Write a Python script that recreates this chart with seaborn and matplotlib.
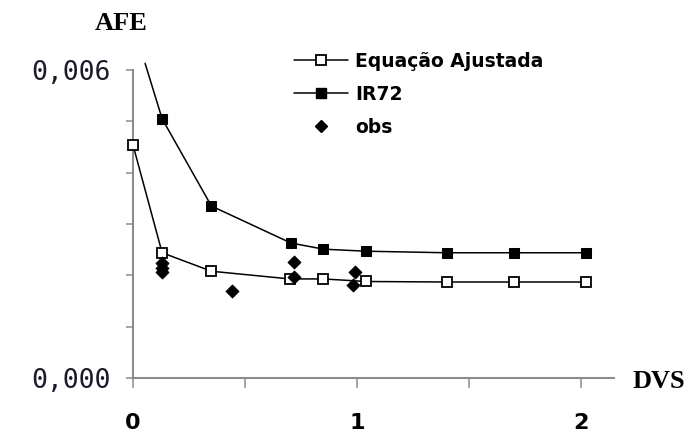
import matplotlib
matplotlib.use("Agg")
import matplotlib.pyplot as plt
import seaborn as sns
import pandas as pd
from matplotlib.lines import Line2D

# ---- data ----
eq_x = [0.0, 0.13, 0.35, 0.70, 0.85, 1.04, 1.40, 1.70, 2.02]
eq_y = [0.00454, 0.00244, 0.00208, 0.00193, 0.00193, 0.00188, 0.00187, 0.00187, 0.00187]

ir_x = [0.054, 0.13, 0.35, 0.705, 0.85, 1.04, 1.40, 1.70, 2.02]
ir_y = [0.00613, 0.00505, 0.00335, 0.00263, 0.00251, 0.00247, 0.00244, 0.00244, 0.00244]

obs_x = [0.13, 0.13, 0.13, 0.44, 0.72, 0.72, 0.99, 0.98]
obs_y = [0.00224, 0.00215, 0.00207, 0.00169, 0.00226, 0.00197, 0.00207, 0.00181]

xticks = [0, 0.5, 1, 1.5, 2]
xticklabels = ["0", "", "1", "", "2"]
yticks = [0, 0.001, 0.002, 0.003, 0.004, 0.005, 0.006]
yticklabels = ["0,000", "", "", "", "", "", "0,006"]

legend_labels = ["Equação Ajustada", "IR72", "obs"]

# ---- figure ----
sns.set_style("white")
plt.rcParams["text.color"] = "black"
W, H = 694, 432
fig = plt.figure(figsize=(W / 100, H / 100), dpi=100)
ax = fig.add_axes([133 / W, 54 / H, (614 - 133) / W, (378 - 58) / H])

eq_df = pd.DataFrame({"DVS": eq_x, "AFE": eq_y})
ir_df = pd.DataFrame({"DVS": ir_x, "AFE": ir_y})
obs_df = pd.DataFrame({"DVS": obs_x, "AFE": obs_y})

sns.lineplot(data=ir_df, x="DVS", y="AFE", ax=ax, color="black", lw=1.1,
             marker="s", markersize=7.5, markerfacecolor="black",
             markeredgecolor="black", markevery=list(range(1, len(ir_x))),
             clip_on=True, zorder=3)
sns.lineplot(data=eq_df, x="DVS", y="AFE", ax=ax, color="black", lw=1.1,
             marker="s", markersize=7.5, markerfacecolor="white",
             markeredgecolor="black", markeredgewidth=1.3,
             clip_on=False, zorder=4)
sns.scatterplot(data=obs_df, x="DVS", y="AFE", ax=ax, marker="D", s=45,
                color="black", edgecolor="black", zorder=5)

ax.set_xlim(0, 2.147)
ax.set_ylim(0, (378 - 58) / 51.33 / 1000)
ax.spines["left"].set_bounds(0, 0.006)
for s in ["top", "right"]:
    ax.spines[s].set_visible(False)
for s in ["left", "bottom"]:
    ax.spines[s].set_color("#8c8c8c")
    ax.spines[s].set_linewidth(1.5)

ax.set_xticks(xticks)
ax.set_xticklabels(xticklabels, fontsize=16, fontweight="bold",
                   family="DejaVu Sans", color="black")
ax.set_yticks(yticks)
ax.set_yticklabels(yticklabels, fontsize=19, family="DejaVu Sans Mono",
                   color="#1a1a2a")
ax.tick_params(axis="y", left=True, direction="out", length=5, width=1.1,
               color="#8c8c8c", pad=11)
ax.tick_params(axis="x", bottom=True, direction="out", length=7, width=1.1,
               color="#8c8c8c", pad=18)
ax.set_xlabel("")
ax.set_ylabel("")

fig.text(121 / W, 1 - 24 / H, "AFE", ha="center", va="center", fontsize=19,
         fontweight="bold", family="Liberation Serif", color="black")
fig.text(633 / W, 1 - 381 / H, "DVS", ha="left", va="center", fontsize=19,
         fontweight="bold", family="Liberation Serif", color="black")

handles = [
    Line2D([], [], color="black", lw=1.1, marker="s", markersize=7.5,
           markerfacecolor="white", markeredgecolor="black", markeredgewidth=1.3),
    Line2D([], [], color="black", lw=1.1, marker="s", markersize=7.5,
           markerfacecolor="black", markeredgecolor="black"),
    Line2D([], [], color="black", lw=0, marker="D", markersize=6.5,
           markerfacecolor="black", markeredgecolor="black"),
]
leg = fig.legend(handles, legend_labels, loc="upper left",
                 bbox_to_anchor=(277 / W, 1 - 35 / H), frameon=False,
                 prop={"family": "DejaVu Sans", "size": 13.5, "weight": "bold"},
                 handlelength=2.9, handletextpad=0.35, labelspacing=0.75,
                 labelcolor="black")

fig.savefig("out.png", dpi=100)
